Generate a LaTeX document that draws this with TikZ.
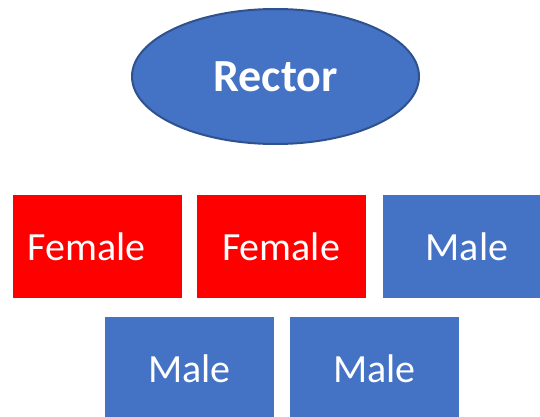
\documentclass[tikz,border=0pt]{standalone}
\usepackage{fontspec}
\setmainfont{Carlito}
\usetikzlibrary{shapes.geometric}
\definecolor{accblue}{HTML}{4472C4}
\definecolor{accdark}{HTML}{2F528F}
\definecolor{accred}{HTML}{FF0000}
\begin{document}
\begin{tikzpicture}[x=1pt, y=1pt, line join=round,
		headnode/.style={ellipse, fill=accblue, draw=accdark, line width=2pt, minimum width=287pt, minimum height=135pt, inner sep=0pt, text=white, font=\fontsize{46}{52}\selectfont\bfseries},
		member/.style={rectangle, inner sep=0pt, minimum width=169pt, minimum height=103pt, text=white, font=\fontsize{40}{46}\selectfont},
		femalebox/.style={member, fill=accred},
		malebox/.style={member, fill=accblue}]
	\useasboundingbox (0,0) rectangle (540,416);
	\clip (0,0) rectangle (540,416);
	% head of the house
	\node[headnode] (rector) at (275.5,339.5) {Rector};
	% upper row
	\node[femalebox, text width=139pt, align=left] (female1) at (97,169.5) {Female};
	\node[femalebox] (female2) at (281,169.5) {Female};
	\node[malebox] (male1) at (467,169.5) {Male};
	% lower row
	\node[malebox] (male2) at (189.5,47.5) {Male};
	\node[malebox] (male3) at (374.5,47.5) {Male};
\end{tikzpicture}
\end{document}
